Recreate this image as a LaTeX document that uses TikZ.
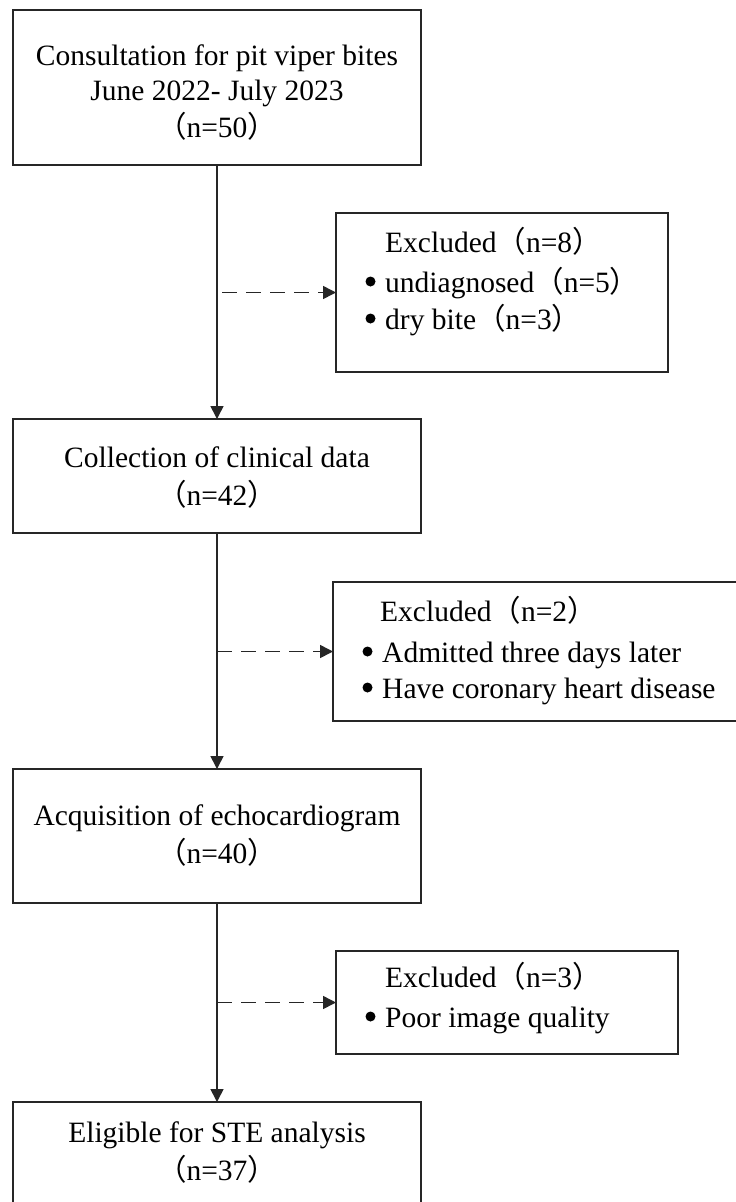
\documentclass[tikz,border=0pt]{standalone}
\usepackage{fontspec}
\setmainfont{Liberation Serif}
\newfontfamily\cjk{Noto Sans CJK SC}
\usetikzlibrary{arrows.meta}
\newcommand{\lp}{{\cjk （}}
\newcommand{\rp}{{\cjk ）}}
\begin{document}
\begin{tikzpicture}[x=1pt,y=-1pt,
  box/.style={draw=black!85, line width=1.6pt, inner sep=0pt, outer sep=0pt},
  txt/.style={font=\fontsize{29.5}{36}\selectfont, inner sep=0pt, text=black, text height=22pt, text depth=7pt},
  arr/.style={draw=black!85, line width=1.6pt, -{Triangle[length=13pt,width=13pt]}},
  darr/.style={arr, dash pattern=on 15pt off 9pt},
  bulletdot/.style={fill=black}]
\useasboundingbox (0,0) rectangle (736,1202);
\fill[white] (0,0) rectangle (736,1202);
\clip (0,0) rectangle (736,1202);

% main boxes
\node[box, minimum width=408, minimum height=155] (b1) at (217,87.5) {};
\node[box, minimum width=408, minimum height=114] (b2) at (217,476) {};
\node[box, minimum width=408, minimum height=134] (b3) at (217,836) {};
\node[box, minimum width=408, minimum height=104] (b4) at (217,1154) {};

% exclusion boxes
\node[box, minimum width=332, minimum height=159] (e1) at (502,292.5) {};
\node[box, minimum width=412, minimum height=139] (e2) at (539,651.5) {};
\node[box, minimum width=342, minimum height=103] (e3) at (507,1002.5) {};

% main texts
\node[txt, anchor=base] (t1a) at (217,65) {Consultation for pit viper bites};
\node[txt, anchor=base] (t1b) at (217,100) {June 2022- July 2023};
\node[txt, anchor=base] (t1c) at (217,137) {\lp n=50\rp};

\node[txt, anchor=base] (t2a) at (217,467) {Collection of clinical data};
\node[txt, anchor=base] (t2b) at (217,505) {\lp n=42\rp};

\node[txt, anchor=base] (t3a) at (217,825) {Acquisition of echocardiogram};
\node[txt, anchor=base] (t3b) at (217,863) {\lp n=40\rp};

\node[txt, anchor=base] (t4a) at (217,1142) {Eligible for STE analysis};
\node[txt, anchor=base] (t4b) at (217,1180) {\lp n=37\rp};

% exclusion texts
\node[txt, anchor=base west] (x1a) at (385,252) {Excluded\lp n=8\rp};
\node[txt, anchor=base west] (x1b) at (385,292) {undiagnosed\lp n=5\rp};
\node[txt, anchor=base west] (x1c) at (385,329) {dry bite\lp n=3\rp};

\node[txt, anchor=base west] (x2a) at (380,621) {Excluded\lp n=2\rp};
\node[txt, anchor=base west] (x2b) at (382,662) {Admitted three days later};
\node[txt, anchor=base west] (x2c) at (382,698) {Have coronary heart disease};

\node[txt, anchor=base west] (x3a) at (385,987) {Excluded\lp n=3\rp};
\node[txt, anchor=base west] (x3b) at (385,1027) {Poor image quality};

% bullets
\foreach \n in {x1b,x1c,x2b,x2c,x3b}
  \fill[bulletdot] (\n.base west) ++(-14.5,-10.5) circle [radius=5pt];

% main connectors
\draw[arr] (b1.south) -- (b2.north);
\draw[arr] (b2.south) -- (b3.north);
\draw[arr] (b3.south) -- (b4.north);

% dashed connectors
\coordinate (d1) at (222,292.5);
\coordinate (d2) at (217,651.5);
\coordinate (d3) at (217,1002.5);
\draw[darr] (d1) -- (d1 -| e1.west);
\draw[darr] (d2) -- (d2 -| e2.west);
\draw[darr] (d3) -- (d3 -| e3.west);
\end{tikzpicture}
\end{document}
